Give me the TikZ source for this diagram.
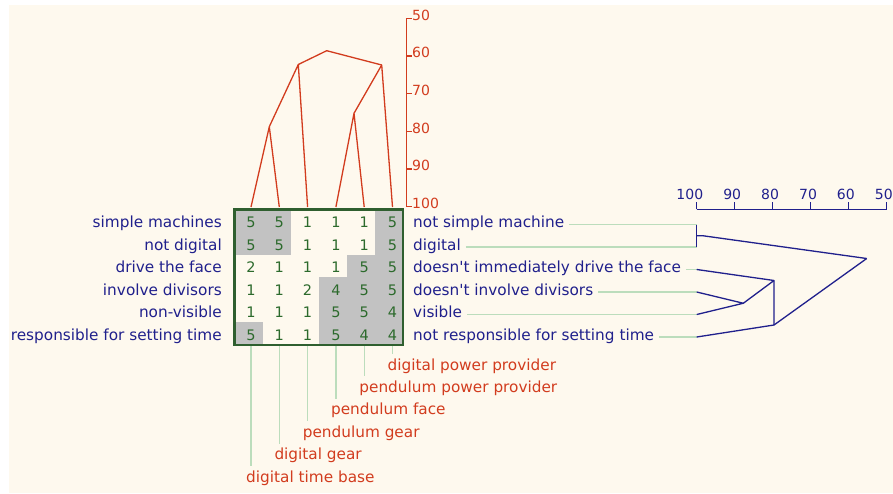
\documentclass[tikz,border=0pt]{standalone}
\usepackage{fontspec}
\setmainfont{DejaVu Sans}
\definecolor{paper}{HTML}{FEF9EE}
\definecolor{navy}{HTML}{20208C}
\definecolor{brick}{HTML}{D23C1E}
\definecolor{digitgreen}{HTML}{2C6A2C}
\definecolor{frame}{HTML}{2F5F2F}
\definecolor{cellgray}{HTML}{C2C2C2}
\definecolor{guide}{HTML}{BCDDBC}
\begin{document}
\begin{tikzpicture}[x=1pt,y=-1pt,
  lab/.style={inner sep=0pt, font=\fontsize{15.3}{18}\selectfont},
  axlab/.style={inner sep=0pt, font=\fontsize{14}{16}\selectfont},
  digit/.style={inner sep=0pt, anchor=base, text=digitgreen, font=\fontsize{14.5}{16}\selectfont},
  guideline/.style={draw=guide, line width=1.2pt},
  redtree/.style={draw=brick, line width=1.3pt, line join=round},
  bluetree/.style={draw=navy, line width=1.3pt, line join=round},
]
\useasboundingbox (0,0) rectangle (893,493);
\fill[white] (0,0) rectangle (893,493);
\fill[paper] (9,5) rectangle (893,493);

% shaded cells of the grid
\foreach \c/\r in {1/1,2/1,6/1,1/2,2/2,6/2,5/3,6/3,4/4,5/4,6/4,4/5,5/5,6/5,1/6,4/6,5/6,6/6}
  \fill[cellgray] ({234.5+28.03*(\c-1)},{209.5+22.58*(\r-1)}) rectangle ++(28.03,22.58);

% grid values
\foreach \rowvals [count=\i] in {{5,5,1,1,1,5},{5,5,1,1,1,5},{2,1,1,1,5,5},{1,1,2,4,5,5},{1,1,1,5,5,4},{5,1,1,5,4,4}}
  \foreach \v [count=\j] in \rowvals
    \node[digit] (d-\i-\j) at ({251+28.3*(\j-1)},{227.5+22.5*(\i-1)}) {\v};

% row labels on the left
\foreach \t [count=\i] in {simple machines,not digital,drive the face,involve divisors,non-visible,responsible for setting time}
  \node[lab, text=navy, anchor=base east] (L\i) at (222,{227.5+22.5*(\i-1)}) {\t};

% row labels on the right
\foreach \t [count=\i] in {not simple machine,digital,doesn\textquotesingle t immediately drive the face,doesn\textquotesingle t involve divisors,visible,not responsible for setting time}
  \node[lab, text=navy, anchor=base west] (Rl\i) at (413,{227.5+22.5*(\i-1)}) {\t};

% leaves of the row tree and the guides leading to them
\foreach \i in {1,...,6} {
  \coordinate (R\i) at (696.7,{224.5+22.5*(\i-1)});
  \draw[guideline] ([xshift=5pt]Rl\i.east |- R\i) -- (R\i);
}

% column labels below and their guides
\foreach \t [count=\j] in {digital time base,digital gear,pendulum gear,pendulum face,pendulum power provider,digital power provider} {
  \node[lab, text=brick, anchor=base west] (B\j) at ({246+28.3*(\j-1)},{482-22.4*(\j-1)}) {\t};
  \coordinate (Gt\j) at ({251+28.3*(\j-1)},346);
  \coordinate (Gb\j) at ({251+28.3*(\j-1)},{466-22.4*(\j-1)});
  \draw[guideline] (Gt\j) -- (Gb\j);
}

% grid frame
\draw[frame, line width=2.3pt] (234.5,209.5) rectangle (402.7,345);

% column tree (red)
\foreach \j in {1,...,6}
  \coordinate (T\j) at ({251+28.3*(\j-1)},207);
\coordinate (n12) at (269.3,126.7);
\coordinate (n123) at (298.3,64.5);
\coordinate (n45) at (354,113.3);
\coordinate (n456) at (381.7,65);
\coordinate (ntop) at (326.7,50.7);
\draw[redtree] (T1) -- (n12) -- (T2);
\draw[redtree] (n12) -- (n123) -- (T3);
\draw[redtree] (T4) -- (n45) -- (T5);
\draw[redtree] (n45) -- (n456) -- (T6);
\draw[redtree] (n123) -- (ntop) -- (n456);

% column tree scale
\coordinate (ax50) at (406.7,18.3);
\coordinate (ax100) at (406.7,206.7);
\draw[redtree, line cap=rect] (ax50) -- (ax100);
\foreach \v [count=\k from 0] in {50,60,70,80,90,100} {
  \draw[redtree] (406.7,{18.3+37.68*\k}) -- ++(5,0);
  \node[axlab, text=brick, anchor=base west] (ya\v) at (412,{20+37.68*\k}) {\v};
}

% row tree scale
\coordinate (ax0) at (696.7,209.3);
\coordinate (ax1) at (886.7,209.3);
\draw[bluetree] (ax0) -- (ax1);
\foreach \v [count=\k from 0] in {100,90,80,70,60,50} {
  \draw[bluetree] ({696.7+37.9*\k},209.3) -- ++(0,-7.6);
  \node[axlab, text=navy, anchor=base east] (xa\v) at ({703.4+37.9*\k},199.3) {\v};
}

% row tree (blue)
\coordinate (m12) at (696.7,235.75);
\coordinate (m12s) at (703,235.75);
\coordinate (mtop) at (866.7,258.5);
\coordinate (m45) at (743.3,303.25);
\coordinate (m3) at (774,280.5);
\coordinate (m6) at (774,325);
\draw[bluetree] (R1) -- (R2);
\draw[bluetree] (m12) -- (m12s) -- (mtop);
\draw[bluetree] (R4) -- (m45) -- (R5);
\draw[bluetree] (m45) -- (m3);
\draw[bluetree] (R3) -- (m3) -- (m6);
\draw[bluetree] (R6) -- (m6) -- (mtop);
\end{tikzpicture}
\end{document}
